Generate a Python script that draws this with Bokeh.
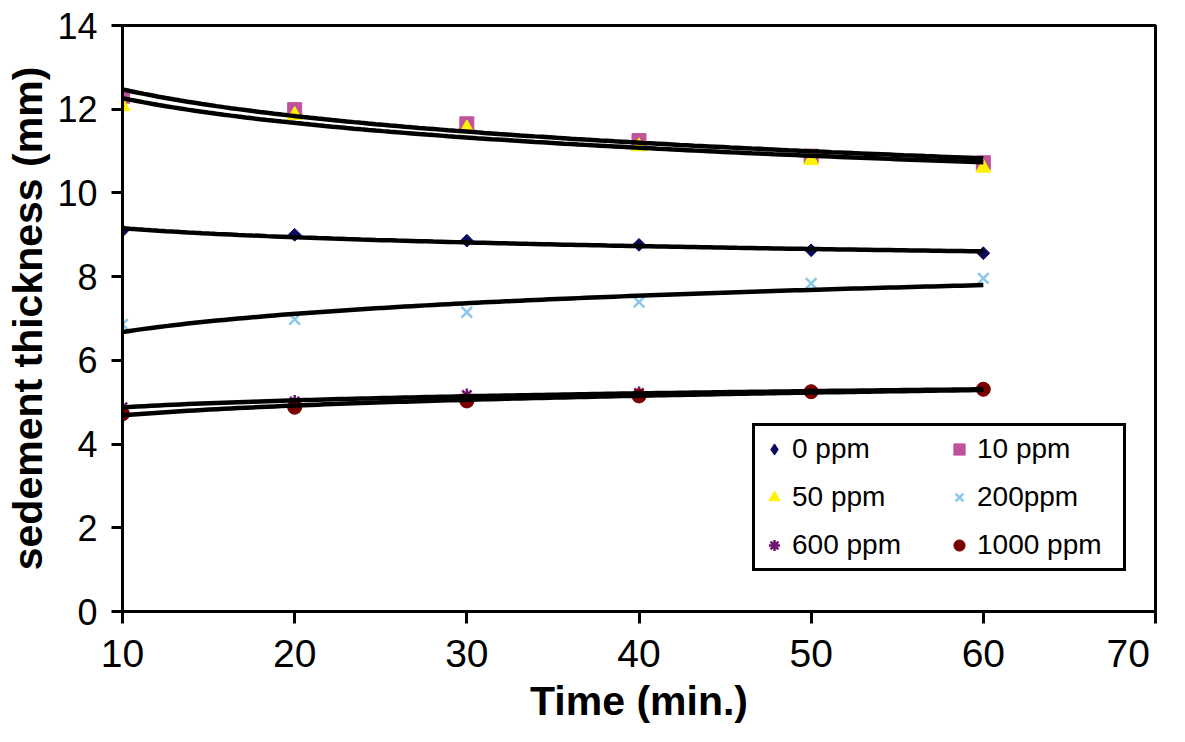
import numpy as np
from bokeh.plotting import figure
from bokeh.models import Range1d, FixedTicker, Legend, LegendItem
from bokeh.embed import file_html
from bokeh.resources import INLINE

# ---- data ----
time = [10, 20, 30, 40, 50, 60]
ppm0 = [9.10, 9.00, 8.86, 8.76, 8.63, 8.56]
ppm10 = [12.31, 11.99, 11.65, 11.25, 10.88, 10.72]
ppm50 = [12.07, 11.86, 11.54, 11.11, 10.78, 10.60]
ppm200 = [6.86, 6.98, 7.15, 7.39, 7.84, 7.96]
ppm600 = [4.88, 5.02, 5.17, 5.22, 5.26, 5.30]
ppm1000 = [4.72, 4.88, 5.03, 5.15, 5.25, 5.31]

labels = ["0 ppm", "10 ppm", "50 ppm", "200ppm", "600 ppm", "1000 ppm"]
x_ticks = [10, 20, 30, 40, 50, 60, 70]
y_ticks = [0, 2, 4, 6, 8, 10, 12, 14]

FONT = "Liberation Sans"

p = figure(width=1169, height=726, output_backend="svg", toolbar_location=None,
           x_range=Range1d(10, 70), y_range=Range1d(0, 14),
           min_border_left=122, min_border_right=14, min_border_top=25, min_border_bottom=114)
p.grid.visible = False
p.outline_line_color = "black"
p.outline_line_width = 3
p.outline_line_alpha = 1.0
p.background_fill_color = "white"
p.border_fill_color = "white"

for ax in (p.xaxis[0], p.yaxis[0]):
    ax.axis_line_width = 3
    ax.axis_line_color = "black"
    ax.major_tick_line_width = 3
    ax.major_tick_line_color = "black"
    ax.major_tick_in = 0
    ax.minor_tick_line_color = None
    ax.major_label_text_font = FONT
    ax.major_label_text_color = "black"
    ax.axis_label_text_font = FONT
    ax.axis_label_text_font_style = "bold"
    ax.axis_label_text_color = "black"

p.xaxis.ticker = FixedTicker(ticks=x_ticks)
p.yaxis.ticker = FixedTicker(ticks=y_ticks)
p.xaxis.major_tick_out = 12
p.yaxis.major_tick_out = 11
p.xaxis.major_label_text_font_size = "39px"
p.yaxis.major_label_text_font_size = "36px"
p.xaxis.major_label_standoff = 8
p.yaxis.major_label_standoff = 14
# the last label is pulled inward so that it stays inside the picture
p.xaxis.major_label_overrides = {70: "70\u2002"}
p.xaxis.axis_label = "Time (min.)"
p.yaxis.axis_label = "sedement thickness (mm)"
p.xaxis.axis_label_text_font_size = "41px"
p.yaxis.axis_label_text_font_size = "41px"
p.xaxis.axis_label_standoff = 0
p.yaxis.axis_label_standoff = 3

series = [ppm0, ppm10, ppm50, ppm200, ppm600, ppm1000]
styles = [
    dict(marker="square", size=9, angle=np.pi / 4, fill_color="#0a0a5e", line_color="#0a0a5e"),
    dict(marker="square", size=14, fill_color="#c0519d", line_color="#c0519d"),
    dict(marker="triangle", size=15, fill_color="#fff200", line_color="#fff200"),
    dict(marker="x", size=15, line_color="#88c8ea", line_width=2.5),
    dict(marker="asterisk", size=13, line_color="#6e1670", line_width=2.5),
    dict(marker="circle", size=14, fill_color="#7a0000", line_color="#7a0000"),
]

renderers = []
for ys, st in zip(series, styles):
    r = p.scatter(time, ys, **st)
    renderers.append(r)

# legend stand-in for the diamond marker (legend glyphs ignore rotation)
diamond_key = p.scatter([float("nan")], [float("nan")], marker="diamond", size=14,
                        fill_color="#0a0a5e", line_color="#0a0a5e")
legend_renderers = [diamond_key] + renderers[1:]

# logarithmic trend lines fitted to each series
xs = np.linspace(time[0], time[-1], 120)
for ys in series:
    a, b = np.polyfit(np.log(time), ys, 1)
    p.line(xs, a * np.log(xs) + b, line_color="black", line_width=4.5)

# row-major order: (0, 10), (50, 200), (600, 1000) -> Bokeh fills columns first
order = [0, 2, 4, 1, 3, 5]
items = [LegendItem(label=labels[i], renderers=[legend_renderers[i]]) for i in order]
legend = Legend(items=items, location=(630, 40), ncols=2, margin=0,
                label_text_font=FONT, label_text_font_size="28px",
                label_text_color="black",
                glyph_width=28, glyph_height=36, label_height=36, label_width=141,
                label_standoff=4, spacing=12, padding=5,
                border_line_color="black", border_line_width=3, border_line_alpha=1.0,
                background_fill_color="white", background_fill_alpha=1.0)
p.add_layout(legend, "center")

open("out.html", "w").write(file_html(p, INLINE))
